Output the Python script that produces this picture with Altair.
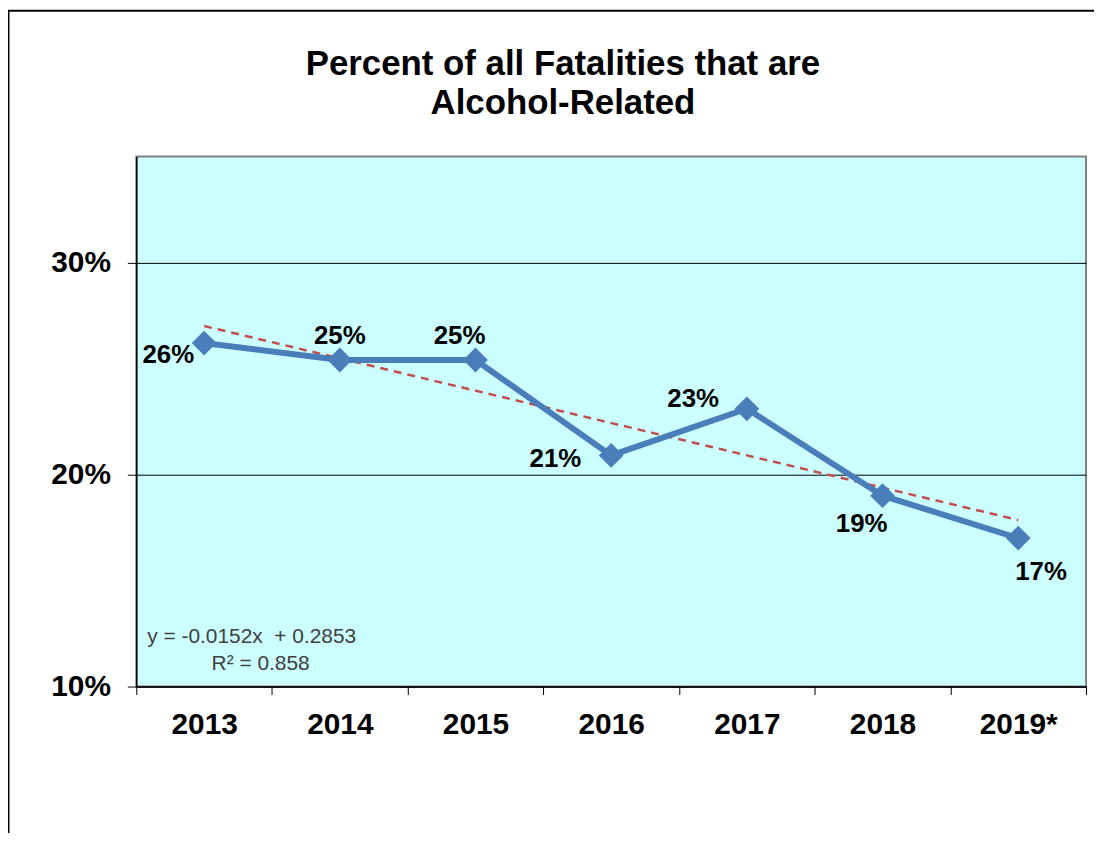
import json
import altair as alt
import pandas as pd

# ---- data ----
years = ["2013", "2014", "2015", "2016", "2017", "2018", "2019*"]
idx = [1, 2, 3, 4, 5, 6, 7]
pct = [0.262, 0.254, 0.254, 0.209, 0.231, 0.190, 0.170]
labels = ["26%", "25%", "25%", "21%", "23%", "19%", "17%"]
eq_lines = ["y = -0.0152x\u00a0\u00a0+ 0.2853", "R² = 0.858"]
title_lines = ["Percent of all Fatalities that are", "Alcohol-Related"]

# ---- label placement (style, not data) ----
label_offsets = {
    "2013": (-36, 12),
    "2014": (0, -24),
    "2015": (-16, -24),
    "2016": (-56, 4),
    "2017": (-54, -10),
    "2018": (-21, 28),
    "2019*": (23, 34),
}

df = pd.DataFrame({"year": years, "idx": idx, "pct": pct, "label": labels})

W, H = 955, 533
FONT = "Liberation Sans"

xscale = alt.Scale(type="band", paddingInner=0, paddingOuter=0, domain=years)
xenc = alt.X(
    "year:N",
    sort=years,
    scale=xscale,
    axis=alt.Axis(
        title=None, tickBand="extent", labelAngle=0, labelAlign="center",
        labelBaseline="top", labelFont=FONT,
        labelFontSize=30, labelFontWeight="bold", labelColor="black",
        labelPadding=15, tickSize=8, tickColor="black", domainColor="black",
        domainWidth=1.5, grid=False,
    ),
)
yscale = alt.Scale(domain=[0.10, 0.35], nice=False, zero=False)
yenc = alt.Y(
    "pct:Q",
    scale=yscale,
    axis=alt.Axis(
        title=None, values=[0.1, 0.2, 0.3], format=".0%", labelFont=FONT,
        labelFontSize=30, labelFontWeight="bold", labelColor="black",
        labelPadding=17, tickSize=9, tickColor="black", domainColor="black",
        domainWidth=1.5, grid=True, gridColor="black", gridWidth=1,
    ),
)

base = alt.Chart(df)

line = base.mark_line(color="#4a7ebb", strokeWidth=6).encode(x=xenc, y=yenc)
points = base.mark_point(
    shape="diamond", filled=True, size=620, color="#4a7ebb", opacity=1
).encode(x=xenc, y=yenc)

year_arr = json.dumps(years)
trend = (
    base.transform_regression("idx", "pct", method="linear")
    .transform_calculate(year=f"{year_arr}[datum.idx - 1]")
    .mark_line(color="#c0504d", strokeWidth=2.5, strokeDash=[8, 6])
    .encode(x=alt.X("year:N", sort=years, scale=xscale),
            y=alt.Y("pct:Q", scale=yscale))
)

text_layers = []
for yv, (dx, dy) in label_offsets.items():
    text_layers.append(
        base.transform_filter(alt.datum.year == yv)
        .mark_text(font=FONT, fontSize=26, fontWeight="bold", color="black",
                   dx=dx, dy=dy, align="center", baseline="middle")
        .encode(x=alt.X("year:N", sort=years), y=alt.Y("pct:Q"), text="label:N")
    )

eq_df = pd.DataFrame({"t": eq_lines, "row": [0, 1]})
eq1 = alt.Chart(eq_df).transform_filter(alt.datum.row == 0).mark_text(
    font=FONT, fontSize=21, color="#404040", align="left", baseline="middle"
).encode(x=alt.value(11), y=alt.value(483), text="t:N")
eq2 = alt.Chart(eq_df).transform_filter(alt.datum.row == 1).mark_text(
    font=FONT, fontSize=21, color="#404040", align="center", baseline="middle"
).encode(x=alt.value(125), y=alt.value(510), text="t:N")

title_df = pd.DataFrame({"t": title_lines, "row": [0, 1]})
t1 = alt.Chart(title_df).transform_filter(alt.datum.row == 0).mark_text(
    font=FONT, fontSize=35, fontWeight="bold", color="black", align="center", baseline="middle"
).encode(x=alt.value(429), y=alt.value(-93), text="t:N")
t2 = alt.Chart(title_df).transform_filter(alt.datum.row == 1).mark_text(
    font=FONT, fontSize=35, fontWeight="bold", color="black", align="center", baseline="middle"
).encode(x=alt.value(429), y=alt.value(-54), text="t:N")

frame = alt.Chart(eq_df).transform_filter(alt.datum.row == 0).mark_rect(
    fillOpacity=0, stroke="black", strokeWidth=2
).encode(x=alt.value(-128.5), x2=alt.value(1200), y=alt.value(-146.5), y2=alt.value(900))

chart = (
    alt.layer(frame, trend, line, points, *text_layers, eq1, eq2, t1, t2)
    .properties(
        width=W, height=H,
        autosize=alt.AutoSizeParams(type="none"),
        padding={"left": 129, "top": 147, "right": 8, "bottom": 145},
        background="white",
    )
    .configure_view(fill="#ccffff", stroke="#808080", strokeWidth=2)
)

chart.save("out.html", embed_options={"renderer": "svg", "actions": False})
